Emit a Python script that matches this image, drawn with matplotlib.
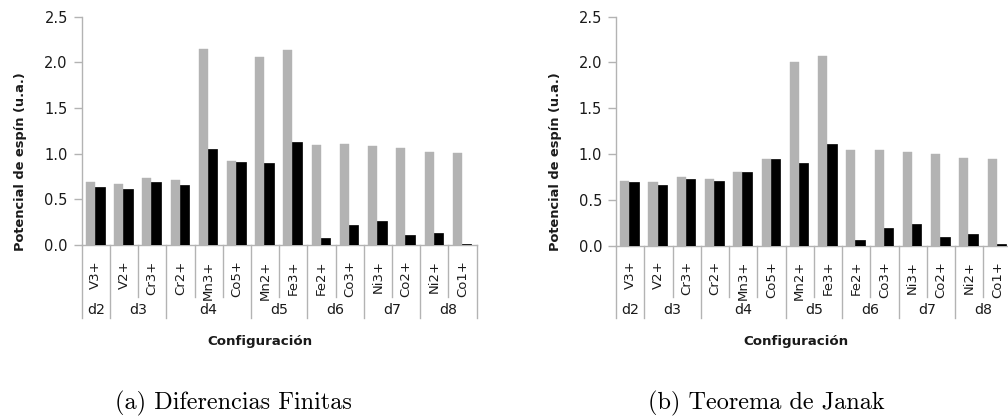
import matplotlib
matplotlib.use("Agg")
import matplotlib.pyplot as plt
import matplotlib.transforms as mtransforms
import numpy as np

# ---------------- data ----------------
ions = ["V3+", "V2+", "Cr3+", "Cr2+", "Mn3+", "Co5+", "Mn2+", "Fe3+",
        "Fe2+", "Co3+", "Ni3+", "Co2+", "Ni2+", "Co1+"]
groups = ["d2", "d3", "d4", "d5", "d6", "d7", "d8"]
group_sizes = [1, 2, 3, 2, 2, 2, 2]

# (a) Diferencias Finitas
gray_a = [0.69, 0.67, 0.73, 0.71, 2.15, 0.92, 2.06, 2.14,
          1.10, 1.11, 1.08, 1.06, 1.02, 1.01]
black_a = [0.64, 0.61, 0.69, 0.66, 1.05, 0.91, 0.90, 1.13,
           0.08, 0.22, 0.26, 0.11, 0.13, 0.015]
# (b) Teorema de Janak
gray_b = [0.71, 0.69, 0.75, 0.73, 0.80, 0.94, 2.00, 2.07,
          1.04, 1.04, 1.02, 1.00, 0.96, 0.95]
black_b = [0.69, 0.66, 0.73, 0.71, 0.80, 0.94, 0.90, 1.11,
           0.06, 0.19, 0.24, 0.09, 0.13, 0.015]

yticks = [0.0, 0.5, 1.0, 1.5, 2.0, 2.5]
ytick_labels = ["0.0", "0.5", "1.0", "1.5", "2.0", "2.5"]
ylabel = "Potencial de espín (u.a.)"
xlabel = "Configuración"
captions = ["(a) Diferencias Finitas", "(b) Teorema de Janak"]

# ---------------- style ----------------
W, H = 1008, 420
GRAY = "#b3b3b3"
AXC = "#b3b3b3"
TXT = "#1a1a1a"

fig = plt.figure(figsize=(W / 100, H / 100), dpi=100)


def fy(py):
    return 1 - py / H


def make_panel(left, right, top, bottom, gvals, bvals, xlab_x, cap_x, cap):
    ax = fig.add_axes([left / W, fy(bottom), (right - left) / W, (bottom - top) / H])
    x = np.arange(len(ions))
    ax.bar(x - 0.5 + 0.15, gvals, width=0.32, align="edge", color=GRAY,
           edgecolor=GRAY, linewidth=0.3, zorder=2)
    ax.bar(x - 0.5 + 0.47, bvals, width=0.34, align="edge", color="black",
           edgecolor="black", linewidth=0.5, zorder=3)
    ax.set_xlim(-0.5, len(ions) - 0.5)
    ax.set_ylim(0, 2.5)
    ax.set_yticks(yticks)
    ax.set_yticklabels(ytick_labels, fontsize=10.5, color=TXT)
    ax.tick_params(axis="y", length=6, width=1, color=AXC, pad=4)
    ax.set_xticks(x)
    ax.set_xticklabels(ions, rotation=90, fontsize=9.5, color=TXT)
    ax.tick_params(axis="x", length=0, pad=11)
    for s in ["top", "right"]:
        ax.spines[s].set_visible(False)
    for s in ["left", "bottom"]:
        ax.spines[s].set_color(AXC)
        ax.spines[s].set_linewidth(1)

    trans = mtransforms.blended_transform_factory(ax.transData, fig.transFigure)
    bounds = np.cumsum([0] + group_sizes)
    for b in range(len(ions) + 1):
        long_line = b in bounds
        y1 = 318 if long_line else 297
        ax.plot([b - 0.5, b - 0.5], [fy(bottom), fy(y1)], transform=trans,
                color=AXC, lw=1, clip_on=False, zorder=1)
    for g, s0, s1 in zip(groups, bounds[:-1], bounds[1:]):
        xc = (s0 + s1) / 2 - 0.5
        ax.text(xc, fy(310), g, transform=trans, ha="center", va="center",
                fontsize=10.2, color=TXT)

    fig.text(xlab_x / W, fy(342), xlabel, ha="center", va="center",
             fontsize=9.6, fontweight="bold", color=TXT)
    fig.text((left - 61) / W, fy(162), ylabel, ha="center", va="center",
             rotation=90, fontsize=9.4, fontweight="bold", color=TXT)
    fig.text(cap_x / W, fy(403), cap, ha="center", va="center",
             fontsize=17.5, family="cmr10", color="black")
    return ax


make_panel(81.7, 476.7, 16.7, 245, gray_a, black_a, 260, 233, captions[0])
make_panel(616, 1011.6, 16.7, 245.5, gray_b, black_b, 795.5, 766.5, captions[1])

fig.savefig("out.png", dpi=100)
